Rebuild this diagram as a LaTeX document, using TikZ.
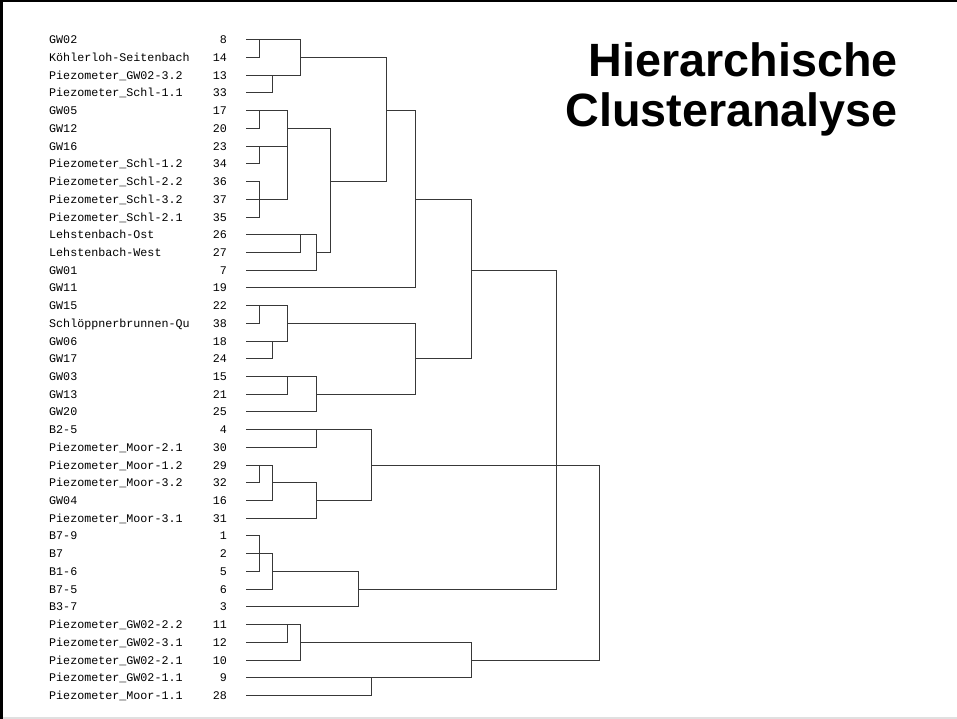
\documentclass[tikz,border=0pt]{standalone}
\usepackage{fontspec}
\setmainfont{Liberation Sans}
\newfontfamily\monof{Liberation Mono}
\begin{document}
\begin{tikzpicture}[x=1pt,y=-1pt,
  lab/.style={font=\monof\fontsize{11.7}{12}\selectfont, text=black, inner sep=0pt},
  den/.style={draw=black!78, line width=1.7pt, line cap=rect},
  ttl/.style={font=\bfseries\fontsize{46.7}{50}\selectfont, anchor=base east, inner sep=0pt}
]
\useasboundingbox (0,0) rectangle (957,719);
\fill[white] (0,0) rectangle (957,719);
\draw[line width=2.5pt] (0,1.25) -- (957,1.25);
\draw[line width=2.5pt] (1.25,0) -- (1.25,719);
\fill[black!12] (2.5,716.5) rectangle (957,719);

% merge levels
\foreach \n/\x in {1/259.5, 2/272.5, 3/287.5, 4/300.5, 5/316.5, 6/330.5, 7/358.5,
                   8/371.5, 9/386.5, 10/415.5, 11/471.5, 12/556.5, 13/599.5}
  \coordinate (L\n) at (\x,0);

% leaves
\foreach \t/\k/\e [count=\i from 0] in {
  GW02/8/4, Köhlerloh-Seitenbach/14/1, Piezometer\_GW02-3.2/13/4, Piezometer\_Schl-1.1/33/2,
  GW05/17/3, GW12/20/1, GW16/23/3, Piezometer\_Schl-1.2/34/1,
  Piezometer\_Schl-2.2/36/1, Piezometer\_Schl-3.2/37/3, Piezometer\_Schl-2.1/35/1,
  Lehstenbach-Ost/26/5, Lehstenbach-West/27/4, GW01/7/5, GW11/19/10,
  GW15/22/3, Schlöppnerbrunnen-Qu/38/1, GW06/18/3, GW17/24/2,
  GW03/15/5, GW13/21/3, GW20/25/5,
  B2-5/4/8, Piezometer\_Moor-2.1/30/5, Piezometer\_Moor-1.2/29/2, Piezometer\_Moor-3.2/32/1,
  GW04/16/2, Piezometer\_Moor-3.1/31/5,
  B7-9/1/1, B7/2/2, B1-6/5/1, B7-5/6/2, B3-7/3/7,
  Piezometer\_GW02-2.2/11/4, Piezometer\_GW02-3.1/12/3, Piezometer\_GW02-2.1/10/4,
  Piezometer\_GW02-1.1/9/11, Piezometer\_Moor-1.1/28/8} {
  \pgfmathsetmacro\yy{round(39.3+17.72*\i)+0.5}
  \coordinate (r\i) at (247,\yy);
  \node[lab, anchor=base west] (t\i) at (49,\yy+3.8) {\t};
  \node[lab, anchor=base east] (n\i) at (227,\yy+3.8) {\k};
  \draw[den] (r\i) -- (r\i -| L\e);
}

% internal horizontals: row / from level / to level
\foreach \r/\a/\b in {1/4/9, 5/3/6, 12/5/6, 8/6/9, 4/9/10, 9/10/11, 13/11/12,
                      16/3/10, 20/5/10, 18/10/11, 25/2/5, 26/5/8, 24/8/13,
                      30/2/7, 31/7/12, 34/4/11, 35/11/13}
  \draw[den] (r\r -| L\a) -- (r\r -| L\b);

% verticals: level / from row / to row
\foreach \k/\a/\b in {1/0/1, 1/4/5, 1/6/7, 1/8/10, 1/15/16, 1/24/25, 1/28/30,
                      2/2/3, 2/17/18, 2/24/26, 2/29/31,
                      3/4/9, 3/15/17, 3/19/20, 3/33/34,
                      4/0/2, 4/11/12, 4/33/35,
                      5/11/13, 5/19/21, 5/22/23, 5/25/27,
                      6/5/12, 7/30/32, 8/22/26, 8/36/37,
                      9/1/8, 10/4/14, 10/16/20, 11/9/18, 11/34/36,
                      12/13/31, 13/24/35}
  \draw[den] (r\a -| L\k) -- (r\b -| L\k);

\node[ttl] (title1) at (898,76.7) {Hierarchische};
\node[ttl] (title2) at (898,126.7) {Clusteranalyse};
\end{tikzpicture}
\end{document}
